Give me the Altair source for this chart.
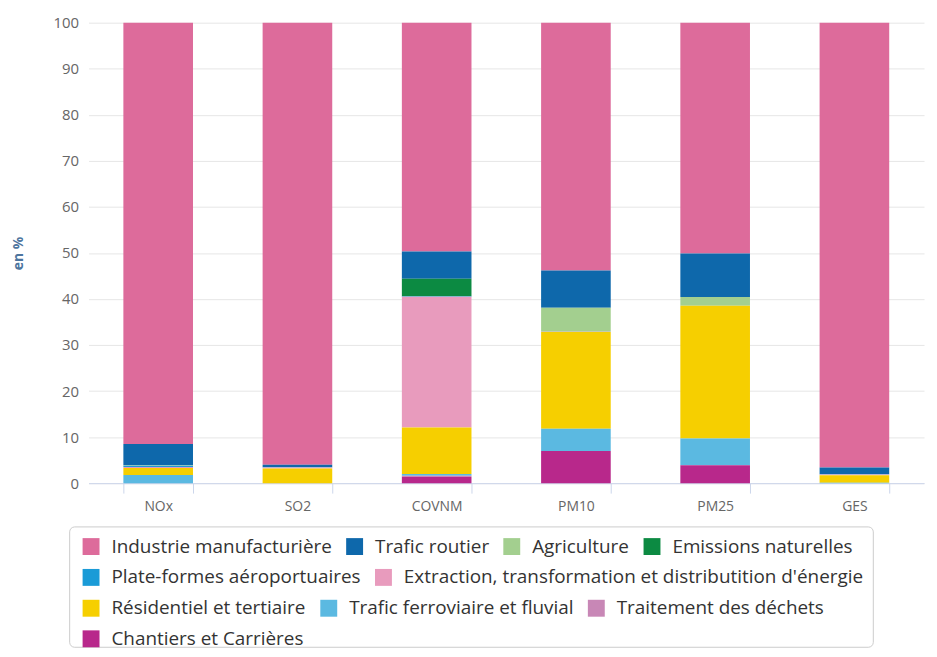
import altair as alt
import pandas as pd

categories = ["NOx", "SO2", "COVNM", "PM10", "PM25", "GES"]

sectors = [
    "Industrie manufacturière",
    "Trafic routier",
    "Agriculture",
    "Emissions naturelles",
    "Plate-formes aéroportuaires",
    "Extraction, transformation et distributition d'énergie",
    "Résidentiel et tertiaire",
    "Trafic ferroviaire et fluvial",
    "Traitement des déchets",
    "Chantiers et Carrières",
]
colors = [
    "#dd6b9b", "#0e68ab", "#a3cf8f", "#0c8a42", "#1a9bd7",
    "#e89bbd", "#f6cf00", "#5bb9e1", "#c887b6", "#b8288b",
]

industrie = [91.5, 96.0, 49.7, 53.8, 50.1, 96.6]
trafic_routier = [4.6, 0.5, 5.9, 8.1, 9.5, 1.4]
agriculture = [0.1, 0.0, 0.0, 5.2, 1.9, 0.0]
emissions_naturelles = [0.0, 0.0, 3.8, 0.0, 0.0, 0.0]
plateformes = [0.3, 0.1, 0.1, 0.0, 0.0, 0.1]
extraction = [0.2, 0.2, 28.4, 0.1, 0.0, 0.2]
residentiel = [1.5, 3.2, 10.1, 21.0, 28.8, 1.6]
ferroviaire = [1.8, 0.0, 0.4, 4.8, 5.8, 0.1]
dechets = [0.0, 0.0, 0.2, 0.0, 0.0, 0.0]
chantiers = [0.0, 0.0, 1.4, 7.0, 3.9, 0.0]

series = [industrie, trafic_routier, agriculture, emissions_naturelles, plateformes,
          extraction, residentiel, ferroviaire, dechets, chantiers]

# legend rows as the reference flows them
legend_rows = [
    sectors[0:4],
    sectors[4:6],
    sectors[6:9],
    sectors[9:10],
]

rows = []
for si, (s, vals) in enumerate(zip(sectors, series)):
    for c, v in zip(categories, vals):
        rows.append({"cat": c, "sector": s, "value": v, "rank": len(sectors) - si})
df = pd.DataFrame(rows)

FONT = "Open Sans"

base = alt.Chart(df).transform_stack(
    stack="value", groupby=["cat"], as_=["y0", "y1"],
    sort=[alt.SortField("rank", order="ascending")],
)

x_scale = alt.Scale(paddingInner=0.5, paddingOuter=0.25)
y_scale = alt.Scale(domain=[0, 100])

x_axis = alt.Axis(labelAngle=0, labelFontSize=14, labelColor="#666666", labelFont=FONT,
                  labelPadding=6, tickBand="extent", tickSize=10, tickColor="#ccd6eb",
                  domainColor="#ccd6eb", grid=False)
y_axis = alt.Axis(values=list(range(0, 101, 10)), labelFontSize=15, labelColor="#666666",
                  labelFont=FONT, ticks=False, domain=False, gridColor="#e6e6e6",
                  labelPadding=10, titleFontSize=14, titleFontWeight="bold",
                  titleColor="#4d759e", titleFont=FONT, titlePadding=28)

frame = alt.Chart(pd.DataFrame({"a": [0]})).mark_rect(
    filled=False, stroke="#cccccc", strokeWidth=1, cornerRadius=5
).encode(
    x=alt.value(-19), x2=alt.value(789), y=alt.value(507), y2=alt.value(628)
)

legend_y = [517, 548, 579, 610]
layers = [frame]
for i, row in enumerate(legend_rows):
    row_colors = [colors[sectors.index(s)] for s in row]
    layer = base.transform_filter(
        alt.FieldOneOfPredicate(field="sector", oneOf=row)
    ).mark_bar().encode(
        x=alt.X("cat:N", sort=categories, scale=x_scale, title=None, axis=x_axis),
        y=alt.Y("y0:Q", scale=y_scale, title="en %", axis=y_axis),
        y2="y1:Q",
        color=alt.Color(
            "sector:N",
            scale=alt.Scale(domain=row, range=row_colors),
            legend=alt.Legend(
                title=None, orient="none", direction="horizontal",
                legendX=-7, legendY=legend_y[i], padding=0,
                symbolType="square", symbolSize=289, symbolStrokeWidth=0,
                labelFontSize=19, labelFont=FONT, labelColor="#333333",
                labelLimit=700, columnPadding=13, labelOffset=11,
            ),
        ),
        tooltip=["cat:N", "sector:N", "value:Q"],
    )
    layers.append(layer)

chart = alt.layer(*layers).resolve_scale(color="independent").properties(
    width=840, height=463, padding={"top": 6, "left": 3, "right": 5, "bottom": 0}
).configure_view(stroke=None)

chart.save("out.html", embed_options={"renderer": "svg", "actions": False})
